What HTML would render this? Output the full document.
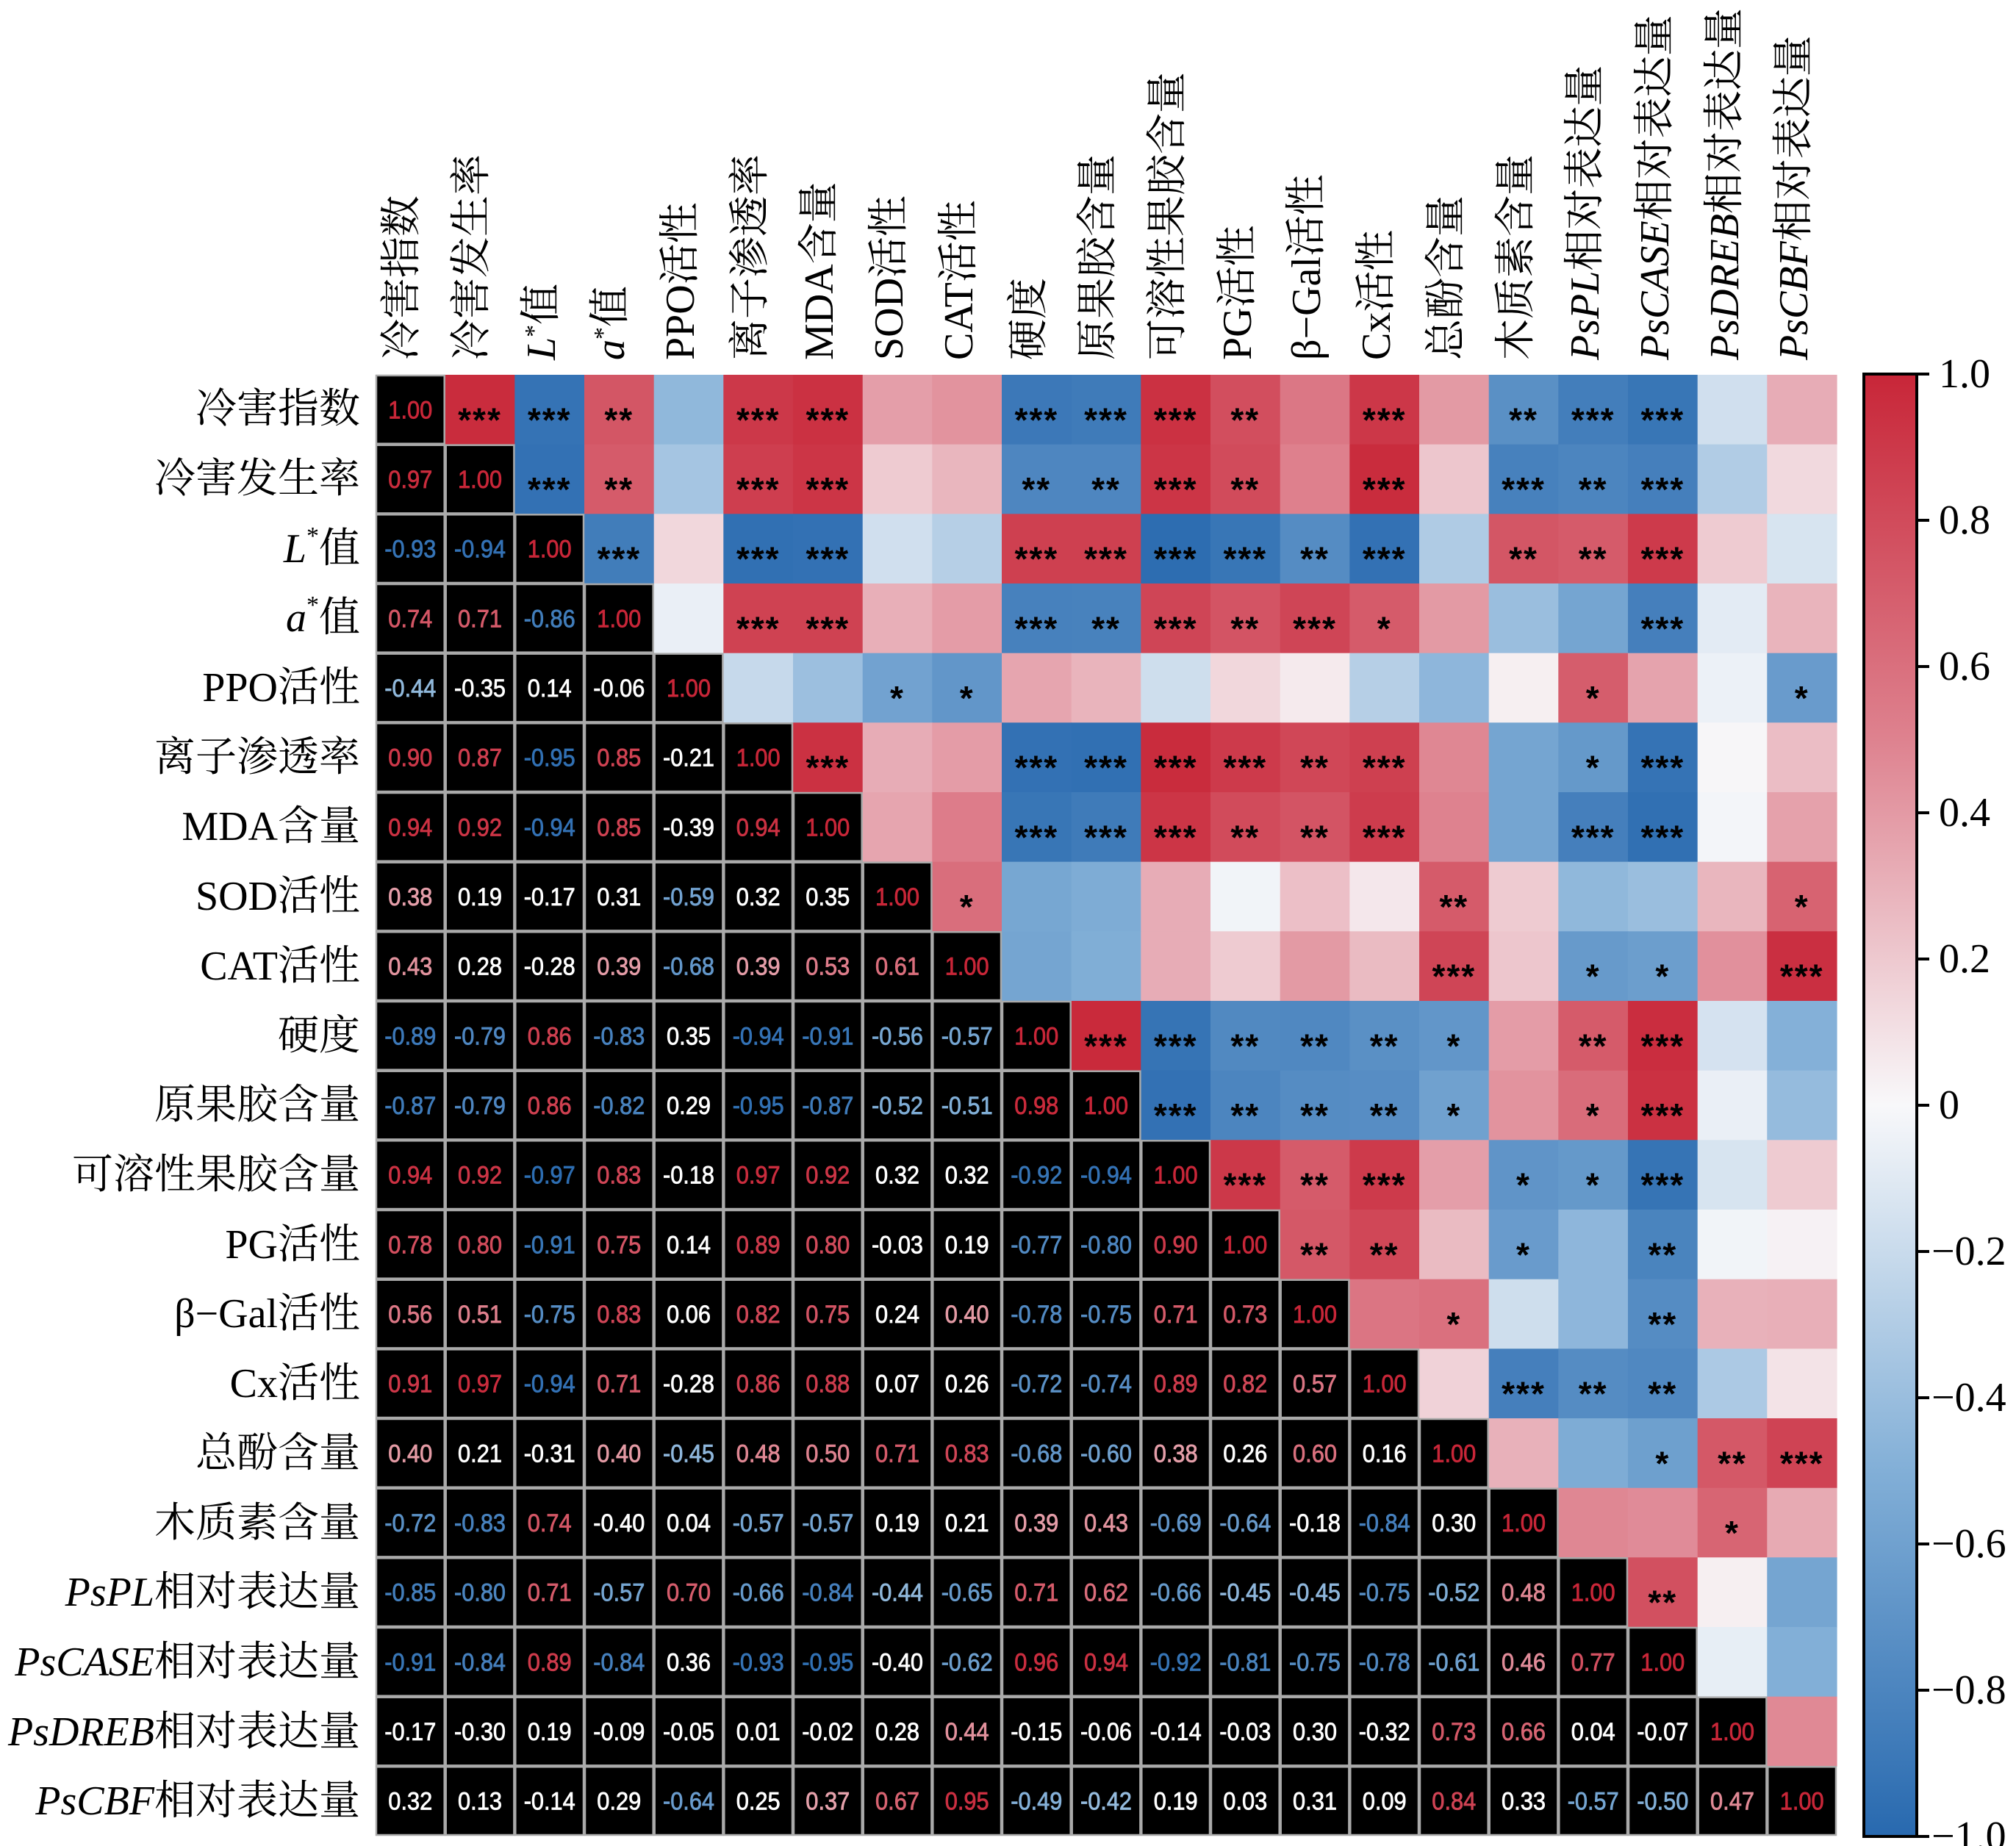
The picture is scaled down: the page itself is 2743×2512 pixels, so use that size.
<!DOCTYPE html>
<html><head><meta charset="utf-8"><style>
html,body{margin:0;padding:0;background:#fff;}
svg{display:block;}
</style></head><body>
<svg id="s" xmlns="http://www.w3.org/2000/svg" width="2743" height="2512" viewBox="0 0 2743 2512">
<defs>
<linearGradient id="cb" x1="0" y1="0" x2="0" y2="1">
<stop offset="0" stop-color="rgb(200,38,56)"/>
<stop offset="0.25" stop-color="rgb(222,130,143)"/>
<stop offset="0.5" stop-color="rgb(248,248,250)"/>
<stop offset="0.75" stop-color="rgb(130,175,215)"/>
<stop offset="1" stop-color="rgb(40,105,175)"/>
</linearGradient>
</defs>
<g id="cells"></g>
<g id="labels" font-family="'Liberation Serif','Noto Serif CJK SC',serif" font-size="56" fill="#000">
<text x="490" y="557" text-anchor="end" dominant-baseline="central">冷害指数</text>
<text x="490" y="652" text-anchor="end" dominant-baseline="central">冷害发生率</text>
<text x="490" y="747" text-anchor="end" dominant-baseline="central"><tspan font-style="italic">L</tspan><tspan font-size="34" dy="-18">*</tspan><tspan dy="18">值</tspan></text>
<text x="490" y="841" text-anchor="end" dominant-baseline="central"><tspan font-style="italic">a</tspan><tspan font-size="34" dy="-18">*</tspan><tspan dy="18">值</tspan></text>
<text x="490" y="936" text-anchor="end" dominant-baseline="central">PPO活性</text>
<text x="490" y="1031" text-anchor="end" dominant-baseline="central">离子渗透率</text>
<text x="490" y="1125" text-anchor="end" dominant-baseline="central">MDA含量</text>
<text x="490" y="1220" text-anchor="end" dominant-baseline="central">SOD活性</text>
<text x="490" y="1315" text-anchor="end" dominant-baseline="central">CAT活性</text>
<text x="490" y="1410" text-anchor="end" dominant-baseline="central">硬度</text>
<text x="490" y="1504" text-anchor="end" dominant-baseline="central">原果胶含量</text>
<text x="490" y="1599" text-anchor="end" dominant-baseline="central">可溶性果胶含量</text>
<text x="490" y="1694" text-anchor="end" dominant-baseline="central">PG活性</text>
<text x="490" y="1788" text-anchor="end" dominant-baseline="central">β−Gal活性</text>
<text x="490" y="1883" text-anchor="end" dominant-baseline="central">Cx活性</text>
<text x="490" y="1978" text-anchor="end" dominant-baseline="central">总酚含量</text>
<text x="490" y="2073" text-anchor="end" dominant-baseline="central">木质素含量</text>
<text x="490" y="2167" text-anchor="end" dominant-baseline="central"><tspan font-style="italic">PsPL</tspan>相对表达量</text>
<text x="490" y="2262" text-anchor="end" dominant-baseline="central"><tspan font-style="italic">PsCASE</tspan>相对表达量</text>
<text x="490" y="2357" text-anchor="end" dominant-baseline="central"><tspan font-style="italic">PsDREB</tspan>相对表达量</text>
<text x="490" y="2451" text-anchor="end" dominant-baseline="central"><tspan font-style="italic">PsCBF</tspan>相对表达量</text>
</g>
<g font-family="'Liberation Serif','Noto Serif CJK SC',serif" font-size="56" fill="#000">
<text transform="translate(565,490) rotate(-90)">冷害指数</text>
<text transform="translate(660,490) rotate(-90)">冷害发生率</text>
<text transform="translate(755,490) rotate(-90)"><tspan font-style="italic">L</tspan><tspan font-size="34" dy="-18">*</tspan><tspan dy="18">值</tspan></text>
<text transform="translate(849,490) rotate(-90)"><tspan font-style="italic">a</tspan><tspan font-size="34" dy="-18">*</tspan><tspan dy="18">值</tspan></text>
<text transform="translate(944,490) rotate(-90)">PPO活性</text>
<text transform="translate(1039,490) rotate(-90)">离子渗透率</text>
<text transform="translate(1133,490) rotate(-90)">MDA含量</text>
<text transform="translate(1228,490) rotate(-90)">SOD活性</text>
<text transform="translate(1323,490) rotate(-90)">CAT活性</text>
<text transform="translate(1418,490) rotate(-90)">硬度</text>
<text transform="translate(1512,490) rotate(-90)">原果胶含量</text>
<text transform="translate(1607,490) rotate(-90)">可溶性果胶含量</text>
<text transform="translate(1702,490) rotate(-90)">PG活性</text>
<text transform="translate(1796,490) rotate(-90)">β−Gal活性</text>
<text transform="translate(1891,490) rotate(-90)">Cx活性</text>
<text transform="translate(1986,490) rotate(-90)">总酚含量</text>
<text transform="translate(2081,490) rotate(-90)">木质素含量</text>
<text transform="translate(2175,490) rotate(-90)"><tspan font-style="italic">PsPL</tspan>相对表达量</text>
<text transform="translate(2270,490) rotate(-90)"><tspan font-style="italic">PsCASE</tspan>相对表达量</text>
<text transform="translate(2365,490) rotate(-90)"><tspan font-style="italic">PsDREB</tspan>相对表达量</text>
<text transform="translate(2459,490) rotate(-90)"><tspan font-style="italic">PsCBF</tspan>相对表达量</text>
</g>
<rect x="2536" y="509" width="72" height="1990" fill="url(#cb)" stroke="#000" stroke-width="4"/>
<g stroke="#000" stroke-width="4">
<line x1="2608" y1="509" x2="2625" y2="509"/><line x1="2608" y1="708" x2="2625" y2="708"/>
<line x1="2608" y1="907" x2="2625" y2="907"/><line x1="2608" y1="1106" x2="2625" y2="1106"/>
<line x1="2608" y1="1305" x2="2625" y2="1305"/><line x1="2608" y1="1504" x2="2625" y2="1504"/>
<line x1="2608" y1="1703" x2="2625" y2="1703"/><line x1="2608" y1="1902" x2="2625" y2="1902"/>
<line x1="2608" y1="2101" x2="2625" y2="2101"/><line x1="2608" y1="2300" x2="2625" y2="2300"/>
<line x1="2608" y1="2499" x2="2625" y2="2499"/>
</g>
<g font-family="'Liberation Serif',serif" font-size="56" fill="#000" dominant-baseline="central">
<text x="2638" y="509">1.0</text><text x="2638" y="708">0.8</text><text x="2638" y="907">0.6</text>
<text x="2638" y="1106">0.4</text><text x="2638" y="1305">0.2</text><text x="2638" y="1504">0</text>
<text x="2628" y="1703">−0.2</text><text x="2628" y="1902">−0.4</text><text x="2628" y="2101">−0.6</text>
<text x="2628" y="2300">−0.8</text><text x="2628" y="2499">−1.0</text>
</g>
</svg>
<script>
var L=[[],
[0.97],
[-0.93,-0.94],
[0.74,0.71,-0.86],
[-0.44,-0.35,0.14,-0.06],
[0.90,0.87,-0.95,0.85,-0.21],
[0.94,0.92,-0.94,0.85,-0.39,0.94],
[0.38,0.19,-0.17,0.31,-0.59,0.32,0.35],
[0.43,0.28,-0.28,0.39,-0.68,0.39,0.53,0.61],
[-0.89,-0.79,0.86,-0.83,0.35,-0.94,-0.91,-0.56,-0.57],
[-0.87,-0.79,0.86,-0.82,0.29,-0.95,-0.87,-0.52,-0.51,0.98],
[0.94,0.92,-0.97,0.83,-0.18,0.97,0.92,0.32,0.32,-0.92,-0.94],
[0.78,0.80,-0.91,0.75,0.14,0.89,0.80,-0.03,0.19,-0.77,-0.80,0.90],
[0.56,0.51,-0.75,0.83,0.06,0.82,0.75,0.24,0.40,-0.78,-0.75,0.71,0.73],
[0.91,0.97,-0.94,0.71,-0.28,0.86,0.88,0.07,0.26,-0.72,-0.74,0.89,0.82,0.57],
[0.40,0.21,-0.31,0.40,-0.45,0.48,0.50,0.71,0.83,-0.68,-0.60,0.38,0.26,0.60,0.16],
[-0.72,-0.83,0.74,-0.40,0.04,-0.57,-0.57,0.19,0.21,0.39,0.43,-0.69,-0.64,-0.18,-0.84,0.30],
[-0.85,-0.80,0.71,-0.57,0.70,-0.66,-0.84,-0.44,-0.65,0.71,0.62,-0.66,-0.45,-0.45,-0.75,-0.52,0.48],
[-0.91,-0.84,0.89,-0.84,0.36,-0.93,-0.95,-0.40,-0.62,0.96,0.94,-0.92,-0.81,-0.75,-0.78,-0.61,0.46,0.77],
[-0.17,-0.30,0.19,-0.09,-0.05,0.01,-0.02,0.28,0.44,-0.15,-0.06,-0.14,-0.03,0.30,-0.32,0.73,0.66,0.04,-0.07],
[0.32,0.13,-0.14,0.29,-0.64,0.25,0.37,0.67,0.95,-0.49,-0.42,0.19,0.03,0.31,0.09,0.84,0.33,-0.57,-0.50,0.47]];
var S={
0:{1:3,2:3,3:2,5:3,6:3,9:3,10:3,11:3,12:2,14:3,16:2,17:3,18:3},
1:{2:3,3:2,5:3,6:3,9:2,10:2,11:3,12:2,14:3,16:3,17:2,18:3},
2:{3:3,5:3,6:3,9:3,10:3,11:3,12:3,13:2,14:3,16:2,17:2,18:3},
3:{5:3,6:3,9:3,10:2,11:3,12:2,13:3,14:1,18:3},
4:{7:1,8:1,17:1,20:1},
5:{6:3,9:3,10:3,11:3,12:3,13:2,14:3,17:1,18:3},
6:{9:3,10:3,11:3,12:2,13:2,14:3,17:3,18:3},
7:{8:1,15:2,20:1},
8:{15:3,17:1,18:1,20:3},
9:{10:3,11:3,12:2,13:2,14:2,15:1,17:2,18:3},
10:{11:3,12:2,13:2,14:2,15:1,17:1,18:3},
11:{12:3,13:2,14:3,16:1,17:1,18:3},
12:{13:2,14:2,16:1,18:2},
13:{15:1,18:2},
14:{16:3,17:2,18:2},
15:{18:1,19:2,20:3},
16:{19:1},
17:{18:2}};
var st=[[1,200,38,56],[0.5,222,130,143],[0,248,248,250],[-0.5,130,175,215],[-1,40,105,175]];
function col(v){for(var k=0;k<4;k++){var a=st[k],b=st[k+1];if(v<=a[0]&&v>=b[0]){var t=(a[0]-v)/(a[0]-b[0]);return 'rgb('+Math.round(a[1]+(b[1]-a[1])*t)+','+Math.round(a[2]+(b[2]-a[2])*t)+','+Math.round(a[3]+(b[3]-a[3])*t)+')';}}return '#fff';}
function tcol(v){if(v>=0)return v<0.37?'#fff':col(v);return v>-0.42?'#fff':col(v);}
var X0=511,Y0=510,C=(2499-511)/21,h='';
function val(i,j){if(i==j)return 1;return i>j?L[i][j]:L[j][i];}
for(var i=0;i<21;i++)for(var j=0;j<21;j++){
 var x=X0+j*C,y=Y0+i*C,v=val(i,j);
 if(j>i){h+='<rect x="'+x.toFixed(1)+'" y="'+y.toFixed(1)+'" width="'+(C+0.6).toFixed(1)+'" height="'+(C+0.6).toFixed(1)+'" fill="'+col(v)+'"/>';}
}
for(var i=0;i<21;i++)for(var j=0;j<21;j++){
 var x=X0+j*C,y=Y0+i*C,v=val(i,j);
 if(j<=i){h+='<rect x="'+(x+1).toFixed(1)+'" y="'+(y+1).toFixed(1)+'" width="'+(C-2).toFixed(1)+'" height="'+(C-2).toFixed(1)+'" fill="#000" stroke="#aaa" stroke-width="2.5"/>';
  var s=v.toFixed(2);
  h+='<text x="'+(x+C/2).toFixed(1)+'" y="'+(y+C/2+1).toFixed(1)+'" fill="'+tcol(v)+'" font-family="Liberation Sans,Arial,sans-serif" font-size="34" stroke="'+tcol(v)+'" stroke-width="0.8" text-anchor="middle" dominant-baseline="central" textLength="'+(v<0?70:60)+'" lengthAdjust="spacingAndGlyphs">'+s+'</text>';}
 else if(S[i]&&S[i][j]){var n=S[i][j];h+='<text x="'+(x+C/2).toFixed(1)+'" y="'+(y+C/2+14).toFixed(1)+'" fill="#000" font-family="Liberation Sans,Arial,sans-serif" font-weight="bold" font-size="46" text-anchor="middle" dominant-baseline="central" letter-spacing="2">'+'*'.repeat(n)+'</text>';}
}
document.getElementById('cells').innerHTML=h;
</script>
</body></html>
